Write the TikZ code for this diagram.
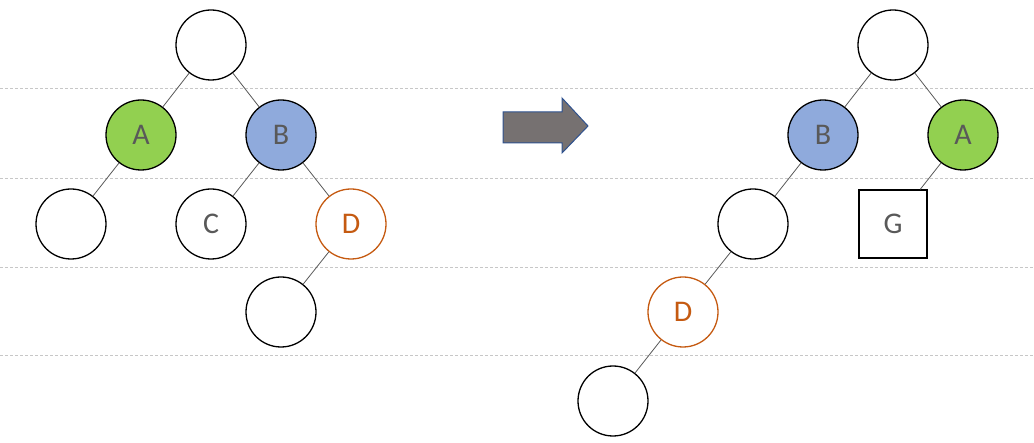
\documentclass[tikz,border=0pt]{standalone}
\usepackage{fontspec}
\setmainfont{Carlito}
\definecolor{fgreen}{HTML}{92D050}
\definecolor{fblue}{HTML}{8FAADC}
\definecolor{dorange}{HTML}{C55A11}
\definecolor{txt}{HTML}{595959}
\definecolor{arrfill}{HTML}{767171}
\definecolor{arrline}{HTML}{2F528F}
\begin{document}
\begin{tikzpicture}[x=1pt,y=-1pt,
  tnode/.style={circle,draw=black,line width=1.3pt,fill=white,minimum size=70pt,inner sep=0pt,
    font=\fontsize{30}{30}\selectfont,text=txt},
  gnode/.style={tnode,fill=fgreen},
  bnode/.style={tnode,fill=fblue},
  dnode/.style={tnode,draw=dorange,text=dorange},
  sqnode/.style={rectangle,draw=black,line width=1.3pt,fill=white,minimum size=68pt,inner sep=0pt,
    font=\fontsize{30}{30}\selectfont,text=txt},
  edge/.style={draw=txt,line width=0.8pt},
  guide/.style={draw=black!22,line width=0.7pt,dash pattern=on 3pt off 2pt}]
\useasboundingbox (0,0) rectangle (1034,443);
% guide lines
\foreach \yy in {88,178,267,355} \draw[guide] (0,\yy) -- (1034,\yy);
% left tree
\node[tnode] (lr) at (211,45) {};
\node[gnode] (la) at (141,135) {A};
\node[bnode] (lb) at (281,135) {B};
\node[tnode] (ll) at (71,224) {};
\node[tnode] (lc) at (211,224) {C};
\node[dnode] (ld) at (351,224) {D};
\node[tnode] (lx) at (281,312) {};
\draw[edge] (lr) -- (la);
\draw[edge] (lr) -- (lb);
\draw[edge] (la) -- (ll);
\draw[edge] (lb) -- (lc);
\draw[edge] (lb) -- (ld);
\draw[edge] (ld) -- (lx);
% arrow
\draw[fill=arrfill,draw=arrline,line width=1pt,line join=miter]
  (503,112) -- (562,112) -- (562,98) -- (588,126) -- (562,153) -- (562,143) -- (503,143) -- cycle;
% right tree
\node[tnode] (rr) at (893,45) {};
\node[bnode] (rb) at (823,135) {B};
\node[gnode] (ra) at (963,135) {A};
\node[tnode] (rl) at (753,224) {};
\node[sqnode] (rg) at (893,224) {G};
\node[dnode] (rd) at (683,312) {D};
\node[tnode] (rx) at (613,401) {};
\draw[edge] (rr) -- (rb);
\draw[edge] (rr) -- (ra);
\draw[edge] (rb) -- (rl);
\draw[edge] (ra) -- (rg);
\draw[edge] (rl) -- (rd);
\draw[edge] (rd) -- (rx);
\end{tikzpicture}
\end{document}
